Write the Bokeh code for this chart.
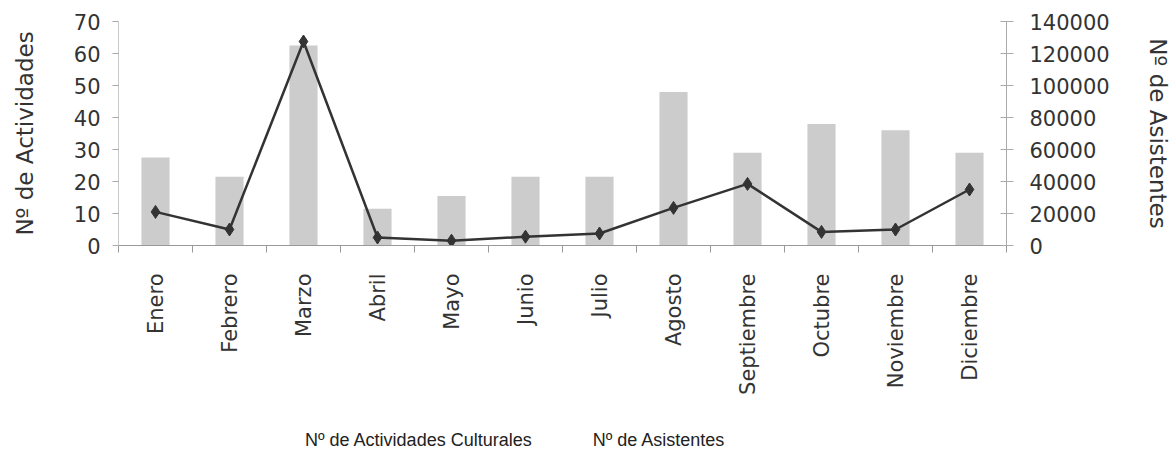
import numpy as np
from bokeh.plotting import figure
from bokeh.layouts import column
from bokeh.models import (Range1d, LinearAxis, FixedTicker,
                          Legend, LegendItem, BasicTickFormatter)
from bokeh.embed import file_html
from bokeh.resources import INLINE

months = ["Enero", "Febrero", "Marzo", "Abril", "Mayo", "Junio", "Julio",
          "Agosto", "Septiembre", "Octubre", "Noviembre", "Diciembre"]
actividades = [27.5, 21.5, 62.5, 11.5, 15.5, 21.5, 21.5, 48, 29, 38, 36, 29]
asistentes = [21000, 10000, 127500, 5000, 3000, 5500, 7500, 23500, 38500, 8500, 10000, 35000]
left_ticks = [0, 10, 20, 30, 40, 50, 60, 70]
right_ticks = [0, 20000, 40000, 60000, 80000, 100000, 120000, 140000]

# category slots on a numeric axis: centre of slot i is i + 0.5
xc = [i + 0.5 for i in range(len(months))]
edges = list(range(len(months) + 1))

AX_FONT = "DejaVu Sans"
TXT = "#333333"
BAR_COLOR = "#cccccc"
LINE_COLOR = "#333333"

p = figure(frame_width=888, frame_height=224, x_range=Range1d(0, len(months)),
           y_range=Range1d(0, 70), output_backend="svg", toolbar_location=None,
           x_axis_location=None, y_axis_location=None,
           min_border_left=118, min_border_right=169, min_border_top=21,
           min_border_bottom=165, outline_line_color=None)
p.grid.visible = False
p.extra_y_ranges = {"asis": Range1d(0, 140000)}

p.vbar(x=xc, top=actividades, width=0.38, fill_color=BAR_COLOR, line_color=None)
p.line(x=xc, y=asistentes, y_range_name="asis", line_color=LINE_COLOR, line_width=2.5)
p.scatter(x=xc, y=asistentes, y_range_name="asis", marker="diamond", size=13,
          fill_color=LINE_COLOR, line_color=LINE_COLOR)

yl = LinearAxis(ticker=FixedTicker(ticks=left_ticks), axis_label="Nº de Actividades",
                axis_label_text_font=AX_FONT, axis_label_text_font_size="23px",
                axis_label_text_font_style="normal", axis_label_text_color=TXT,
                axis_label_standoff=33,
                major_label_text_font=AX_FONT, major_label_text_font_size="21px",
                major_label_text_color=TXT, major_label_standoff=12,
                axis_line_color="#c8c8c8", major_tick_line_color="#aaaaaa",
                major_tick_out=6, major_tick_in=0, minor_tick_line_color=None)
p.add_layout(yl, "left")

yr = LinearAxis(y_range_name="asis", ticker=FixedTicker(ticks=right_ticks),
                formatter=BasicTickFormatter(use_scientific=False),
                axis_label="Nº de Asistentes",
                axis_label_text_font=AX_FONT, axis_label_text_font_size="23px",
                axis_label_text_font_style="normal", axis_label_text_color=TXT,
                axis_label_standoff=32,
                major_label_text_font=AX_FONT, major_label_text_font_size="21px",
                major_label_text_color=TXT, major_label_standoff=16,
                axis_line_color="#aaaaaa", major_tick_line_color="#aaaaaa",
                major_tick_out=7, major_tick_in=6, minor_tick_line_color=None)
p.add_layout(yr, "right")

xt = LinearAxis(ticker=FixedTicker(ticks=edges),
                major_label_text_font_size="0px", major_label_standoff=0,
                axis_line_color="#999999", major_tick_line_color="#999999",
                major_tick_out=7, major_tick_in=0, minor_tick_line_color=None)
p.add_layout(xt, "below")

xl = LinearAxis(ticker=FixedTicker(ticks=xc),
                major_label_overrides={c: m for c, m in zip(xc, months)},
                major_label_orientation=np.pi / 2, axis_line_color=None,
                major_tick_line_color=None, minor_tick_line_color=None,
                major_label_standoff=15,
                major_label_text_font=AX_FONT, major_label_text_font_size="21px",
                major_label_text_color=TXT)
p.add_layout(xl, "below")

# legend strip below the chart (its frame covers the whole strip)
lg = figure(frame_width=1175, frame_height=62, x_range=Range1d(0, 1), y_range=Range1d(0, 1),
            output_backend="svg", toolbar_location=None, x_axis_location=None,
            y_axis_location=None, min_border=0, outline_line_color=None)
lg.grid.visible = False
sw_bar = lg.vbar(x=[], top=[], width=0.38, fill_color=BAR_COLOR, line_color=None)
sw_line = lg.line(x=[], y=[], line_color=LINE_COLOR, line_width=2)
sw_pts = lg.scatter(x=[], y=[], marker="diamond", size=10,
                    fill_color=LINE_COLOR, line_color=LINE_COLOR)

legend = Legend(items=[LegendItem(label="Nº de Actividades Culturales", renderers=[sw_bar]),
                       LegendItem(label="Nº de Asistentes", renderers=[sw_line, sw_pts])],
                orientation="horizontal", location=(266, 21),
                label_text_font="Liberation Sans", label_text_font_size="18px",
                label_text_color="#222222", glyph_width=36, glyph_height=10,
                spacing=22, label_standoff=3, border_line_color=None,
                background_fill_alpha=0, margin=0, padding=4)
lg.add_layout(legend, "center")

open("out.html", "w").write(file_html(column(p, lg), INLINE))
